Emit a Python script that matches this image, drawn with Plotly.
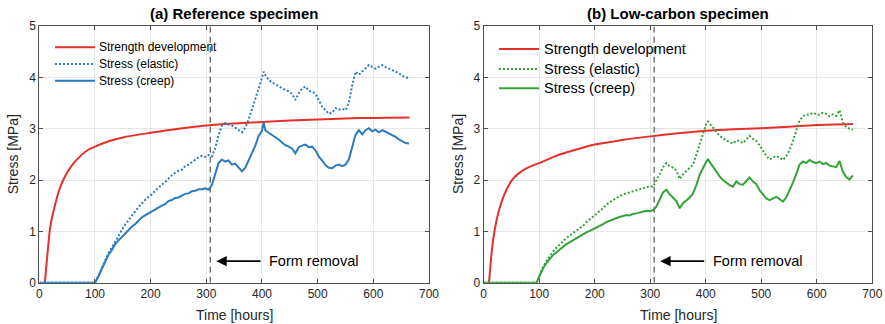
import plotly.graph_objects as go

# ---------------- data ----------------
# (a) Reference specimen
a_strength_t = [10, 12, 15, 19, 23, 28, 35, 43, 52, 61, 75, 88, 100, 126, 150, 200, 250, 300, 350, 400, 450, 500, 550, 600, 665]
a_strength_s = [0.0, 0.25, 0.60, 1.03, 1.28, 1.50, 1.78, 2.00, 2.18, 2.32, 2.48, 2.59, 2.65, 2.76, 2.83, 2.92, 3.00, 3.06, 3.10, 3.13, 3.16, 3.18, 3.20, 3.21, 3.22]

a_time = [0, 100, 106, 112, 118, 124, 130, 136, 142, 148, 154, 160, 166, 172, 178, 184, 190, 196, 202, 208,
          214, 220, 226, 232, 238, 244, 250, 256, 262, 268, 274, 280, 286, 292, 298, 304, 310, 316, 322, 328,
          334, 340, 346, 352, 358, 364, 370, 376, 382, 388, 394, 400, 403, 406, 412, 418, 424, 430, 436, 442,
          448, 454, 460, 466, 472, 478, 484, 490, 496, 502, 508, 514, 520, 526, 532, 538, 544, 550, 556, 562,
          568, 574, 580, 586, 592, 598, 604, 610, 616, 622, 628, 634, 640, 646, 652, 658, 664]
a_creep = [0.0, 0.00, 0.12, 0.27, 0.39, 0.54, 0.63, 0.75, 0.82, 0.89, 0.96, 1.02, 1.09, 1.14, 1.21, 1.27, 1.31, 1.35, 1.38, 1.43,
           1.46, 1.50, 1.53, 1.59, 1.61, 1.65, 1.66, 1.70, 1.73, 1.74, 1.78, 1.79, 1.82, 1.82, 1.84, 1.81, 1.90, 2.12, 2.33, 2.40,
           2.36, 2.38, 2.30, 2.32, 2.24, 2.17, 2.24, 2.38, 2.55, 2.67, 2.86, 2.96, 3.12, 2.97, 2.92, 2.88, 2.84, 2.79, 2.73, 2.68,
           2.65, 2.61, 2.52, 2.64, 2.67, 2.69, 2.64, 2.65, 2.58, 2.46, 2.38, 2.29, 2.24, 2.23, 2.28, 2.30, 2.27, 2.30, 2.40, 2.62,
           2.88, 2.97, 2.89, 2.97, 3.01, 2.95, 2.98, 2.93, 2.97, 2.94, 2.91, 2.87, 2.84, 2.79, 2.75, 2.72, 2.71]
a_elastic = [0.0, 0.00, 0.13, 0.29, 0.43, 0.57, 0.68, 0.80, 0.90, 1.02, 1.13, 1.21, 1.31, 1.39, 1.47, 1.55, 1.61, 1.67, 1.72, 1.79,
             1.86, 1.91, 1.96, 2.03, 2.09, 2.14, 2.18, 2.20, 2.27, 2.30, 2.35, 2.40, 2.44, 2.47, 2.45, 2.49, 2.46, 2.62, 2.88, 3.06,
             3.11, 3.08, 3.06, 3.02, 2.98, 2.93, 3.02, 3.18, 3.38, 3.57, 3.78, 4.00, 4.11, 4.04, 3.95, 3.90, 3.86, 3.82, 3.78, 3.75,
             3.73, 3.68, 3.56, 3.69, 3.78, 3.82, 3.74, 3.72, 3.68, 3.55, 3.43, 3.36, 3.29, 3.31, 3.40, 3.37, 3.39, 3.36, 3.50, 3.84,
             4.11, 4.05, 4.12, 4.18, 4.24, 4.20, 4.17, 4.21, 4.24, 4.20, 4.17, 4.14, 4.12, 4.08, 4.03, 4.00, 3.98]

# (b) Low-carbon specimen
b_strength_t = [9.5, 12, 14, 17, 21, 26, 33, 41, 51, 62, 76, 92, 100, 128, 150, 175, 200, 250, 300, 350, 400, 450, 500, 550, 600, 665]
b_strength_s = [0.0, 0.30, 0.55, 0.83, 1.10, 1.35, 1.60, 1.81, 2.00, 2.12, 2.22, 2.30, 2.33, 2.46, 2.54, 2.62, 2.69, 2.78, 2.85, 2.91, 2.96, 2.99, 3.01, 3.04, 3.07, 3.09]

b_time = [0, 95, 101, 107, 113, 119, 125, 131, 137, 143, 149, 155, 161, 167, 173, 179, 185, 191, 197, 203,
          209, 215, 221, 227, 233, 239, 245, 251, 257, 263, 269, 275, 281, 287, 293, 299, 305, 311, 317, 323,
          329, 335, 341, 347, 353, 359, 365, 371, 377, 383, 389, 395, 401, 404, 407, 413, 419, 425, 431, 437,
          443, 449, 455, 461, 467, 473, 479, 485, 491, 497, 503, 509, 515, 521, 527, 533, 539, 545, 551, 557,
          563, 569, 575, 581, 587, 593, 599, 605, 611, 617, 623, 629, 635, 641, 647, 653, 659, 665]
b_creep = [0.0, 0.00, 0.14, 0.28, 0.38, 0.46, 0.54, 0.59, 0.65, 0.70, 0.75, 0.79, 0.83, 0.87, 0.91, 0.94, 0.98, 1.01, 1.04, 1.07,
           1.11, 1.14, 1.18, 1.20, 1.23, 1.26, 1.28, 1.29, 1.32, 1.31, 1.34, 1.35, 1.37, 1.38, 1.40, 1.39, 1.41, 1.48, 1.62, 1.76,
           1.81, 1.72, 1.66, 1.59, 1.45, 1.55, 1.60, 1.66, 1.74, 1.90, 2.10, 2.24, 2.36, 2.40, 2.35, 2.25, 2.15, 2.07, 2.00, 1.95,
           1.90, 1.87, 1.97, 1.92, 1.91, 1.98, 2.05, 1.97, 1.92, 1.80, 1.73, 1.64, 1.61, 1.64, 1.67, 1.63, 1.58, 1.66, 1.80, 1.95,
           2.12, 2.30, 2.36, 2.33, 2.39, 2.35, 2.33, 2.36, 2.31, 2.33, 2.28, 2.27, 2.25, 2.37, 2.16, 2.06, 2.01, 2.09]
b_elastic = [0.0, 0.00, 0.15, 0.31, 0.42, 0.52, 0.61, 0.68, 0.75, 0.81, 0.87, 0.92, 0.97, 1.02, 1.06, 1.11, 1.18, 1.23, 1.29, 1.34,
             1.40, 1.45, 1.52, 1.57, 1.61, 1.65, 1.69, 1.72, 1.74, 1.76, 1.78, 1.79, 1.82, 1.84, 1.86, 1.88, 1.87, 1.98, 2.11, 2.25,
             2.33, 2.27, 2.24, 2.19, 2.02, 2.11, 2.17, 2.24, 2.30, 2.49, 2.70, 2.92, 3.10, 3.14, 3.10, 3.02, 2.94, 2.86, 2.82, 2.77,
             2.74, 2.71, 2.77, 2.76, 2.72, 2.80, 2.86, 2.80, 2.76, 2.68, 2.57, 2.47, 2.40, 2.43, 2.47, 2.44, 2.39, 2.47, 2.58, 2.76,
             2.97, 3.16, 3.24, 3.28, 3.27, 3.31, 3.28, 3.27, 3.31, 3.29, 3.24, 3.28, 3.25, 3.36, 3.12, 3.03, 3.00, 2.98]

form_removal_t = 307
arrow_head_t = 318
arrow_tail_t = 400
arrow_label_t = 409
arrow_s = 0.42

legend_names = ["Strength development", "Stress (elastic)", "Stress (creep)"]
titles = ["(a) Reference specimen", "(b) Low-carbon specimen"]

# ---------------- styling ----------------
W, H = 885, 324
RED = "#e3312a"
BLUE = "#2a7bbf"
GREEN = "#34a336"
FONT = "Liberation Sans, Arial, sans-serif"
AXC = "#4d4d4d"
TXT = "#262626"


def pxx(x):
    return x / W


def pxy(y):
    return 1 - y / H


fig = go.Figure()

panels = [
    dict(xa="x", ya="y", st=a_strength_t, ss=a_strength_s, t=a_time, cr=a_creep, el=a_elastic, col=BLUE),
    dict(xa="x2", ya="y2", st=b_strength_t, ss=b_strength_s, t=b_time, cr=b_creep, el=b_elastic, col=GREEN),
]

for p in panels:
    fig.add_trace(go.Scatter(x=p["st"], y=p["ss"], mode="lines", xaxis=p["xa"], yaxis=p["ya"],
                             line=dict(color=RED, width=2, shape="spline", smoothing=0.8), showlegend=False,
                             cliponaxis=False))
    fig.add_trace(go.Scatter(x=[form_removal_t, form_removal_t], y=[0, 5], mode="lines", xaxis=p["xa"], yaxis=p["ya"],
                             line=dict(color="#333333", width=1, dash="6px,4px"), showlegend=False))
    fig.add_trace(go.Scatter(x=p["t"], y=p["el"], mode="lines", xaxis=p["xa"], yaxis=p["ya"],
                             line=dict(color=p["col"], width=2, dash="2px,2px"), showlegend=False,
                             cliponaxis=False))
    fig.add_trace(go.Scatter(x=p["t"], y=p["cr"], mode="lines", xaxis=p["xa"], yaxis=p["ya"],
                             line=dict(color=p["col"], width=2), showlegend=False, cliponaxis=False))

axis_common = dict(showline=True, linecolor=AXC, linewidth=1, mirror="ticks", ticks="inside", ticklen=4,
                   tickcolor=AXC, showgrid=True, gridcolor="#e6e6e6", gridwidth=1, zeroline=False,
                   automargin=False, tickfont=dict(family=FONT, size=12, color=TXT))

ydom = [pxy(282.7), pxy(26)]
fig.update_layout(
    width=W, height=H, margin=dict(l=0, r=0, t=0, b=0, autoexpand=False), paper_bgcolor="white",
    plot_bgcolor="white", showlegend=False,
    xaxis=dict(domain=[pxx(39.3), pxx(429)], range=[0, 700], dtick=100, anchor="y", **axis_common),
    yaxis=dict(domain=ydom, range=[0, 5], dtick=1, anchor="x", **axis_common),
    xaxis2=dict(domain=[pxx(483.7), pxx(872.3)], range=[0, 700], dtick=100, anchor="y2", **axis_common),
    yaxis2=dict(domain=ydom, range=[0, 5], dtick=1, anchor="x2", **axis_common),
)

ann = []
shapes = []
# titles and axis titles
for cx, title, ylab_x in [(234.2, titles[0], 13.3), (678.0, titles[1], 458.0)]:
    ann.append(dict(x=pxx(cx), y=pxy(14), xref="paper", yref="paper", text="<b>%s</b>" % title, showarrow=False,
                    font=dict(family=FONT, size=15, color="black"), xanchor="center", yanchor="middle"))
    ann.append(dict(x=pxx(cx), y=pxy(315), xref="paper", yref="paper", text="Time [hours]", showarrow=False,
                    font=dict(family=FONT, size=14, color=TXT), xanchor="center", yanchor="middle"))
    ann.append(dict(x=pxx(ylab_x), y=pxy(154), xref="paper", yref="paper", text="Stress [MPa]", showarrow=False,
                    textangle=-90, font=dict(family=FONT, size=14, color=TXT), xanchor="center", yanchor="middle"))

# form removal arrows
for xa, ya in [("x", "y"), ("x2", "y2")]:
    ann.append(dict(x=arrow_head_t, y=arrow_s, ax=arrow_tail_t, ay=arrow_s, xref=xa, yref=ya, axref=xa, ayref=ya,
                    text="", showarrow=True, arrowhead=2, arrowsize=1.3, arrowwidth=1.6, arrowcolor="black"))
    ann.append(dict(x=arrow_label_t, y=arrow_s, xref=xa, yref=ya, text="Form removal", showarrow=False,
                    xanchor="left", yanchor="middle", font=dict(family=FONT, size=14.5, color="black")))

# legends (manual, per panel)
legend_specs = [
    dict(x0=55, x1=95, tx=97, rows=[47.3, 64.0, 80.7], size=12, col=BLUE),
    dict(x0=499, x1=539, tx=541.5, rows=[49.0, 69.0, 88.3], size=14.5, col=GREEN),
]
for spec in legend_specs:
    styles = [dict(color=RED, width=2), dict(color=spec["col"], width=2, dash="2px,2px"),
              dict(color=spec["col"], width=2)]
    for name, row, st in zip(legend_names, spec["rows"], styles):
        shapes.append(dict(type="line", xref="paper", yref="paper", x0=pxx(spec["x0"]), x1=pxx(spec["x1"]),
                           y0=pxy(row), y1=pxy(row), line=st))
        ann.append(dict(x=pxx(spec["tx"]), y=pxy(row), xref="paper", yref="paper", text=name, showarrow=False,
                        xanchor="left", yanchor="middle", font=dict(family=FONT, size=spec["size"], color="black")))

fig.update_layout(annotations=ann, shapes=shapes)
fig.write_html("out.html", config={"displayModeBar": False},
               post_script="document.body.style.margin='0';document.body.style.overflow='hidden';")
